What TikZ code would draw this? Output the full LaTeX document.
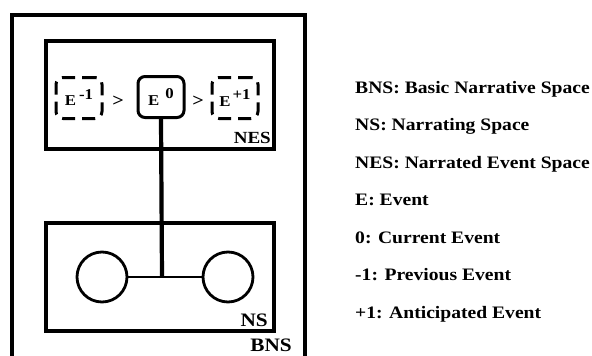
\documentclass[tikz,border=0pt]{standalone}
\usepackage{fontspec}
\setmainfont{Liberation Serif}[FakeStretch=1.12]
\begin{document}
\begin{tikzpicture}[x=1pt,y=-1pt,
  heavy/.style={line width=4.2pt},
  spacebox/.style={draw,line width=4pt},
  evbox/.style={draw,line width=3pt,rounded corners=7pt,minimum width=46pt,minimum height=41pt,inner sep=0pt},
  dashbox/.style={evbox,dash pattern=on 13pt off 7pt},
  evtext/.style={font=\bfseries\fontsize{15}{15}\selectfont},
  gt/.style={font=\bfseries\fontsize{18}{18}\selectfont,inner sep=0pt},
  lab/.style={font=\bfseries\fontsize{17}{17}\selectfont,inner sep=0pt},
  biglab/.style={font=\bfseries\fontsize{19}{19}\selectfont,inner sep=0pt},
  legend/.style={anchor=base west,font=\bfseries\fontsize{17.5}{17.5}\selectfont,inner sep=0pt}]
\useasboundingbox (0,0) rectangle (592,356);
\fill[white] (0,0) rectangle (592,356);
% outer BNS box (open at bottom)
\draw[heavy] (12,356) -- (12,15) -- (305,15) -- (305,356);
% NES box
\draw[spacebox] (46,41) rectangle (274,149);
% NS box
\draw[spacebox] (46,223) rectangle (274,331);
% events
\node[dashbox,evtext] (em1) at (79,98) {E\hspace{3pt}\raisebox{6pt}{-1}};
\node[evbox,evtext] (e0) at (161,97) {E\hspace{6pt}\raisebox{7pt}{0}};
\node[dashbox,evtext] (ep1) at (235,98) {E\hspace{2pt}\raisebox{7pt}{+1}};
\node[gt] (gt1) at (118,101) {>};
\node[gt] (gt2) at (198,101) {>};
% labels
\node[lab,anchor=base east] (nes) at (271,143) {NES};
\node[biglab,anchor=base east] (ns) at (268,326) {NS};
\node[biglab,anchor=base east] (bns) at (292,351) {BNS};
% narrating space
\node[draw,circle,line width=2.8pt,minimum size=50pt,inner sep=0pt] (c1) at (102,277) {};
\node[draw,circle,line width=2.8pt,minimum size=50pt,inner sep=0pt] (c2) at (228,277) {};
\coordinate (j) at (162,277);
\draw[line width=2.2pt] (c1.east) -- (c2.west);
\draw[heavy] (e0.south) -- (j);
% legend
\node[legend] (l1) at (355,93) {BNS: Basic Narrative Space};
\node[legend] (l2) at (355,130.5) {NS: Narrating Space};
\node[legend] (l3) at (355,168) {NES: Narrated Event Space};
\node[legend] (l4) at (355,205.5) {E: Event};
\node[legend] (l5) at (355,243) {0: Current Event};
\node[legend] (l6) at (355,280.5) {-1: Previous Event};
\node[legend] (l7) at (355,318) {+1: Anticipated Event};
\end{tikzpicture}
\end{document}
